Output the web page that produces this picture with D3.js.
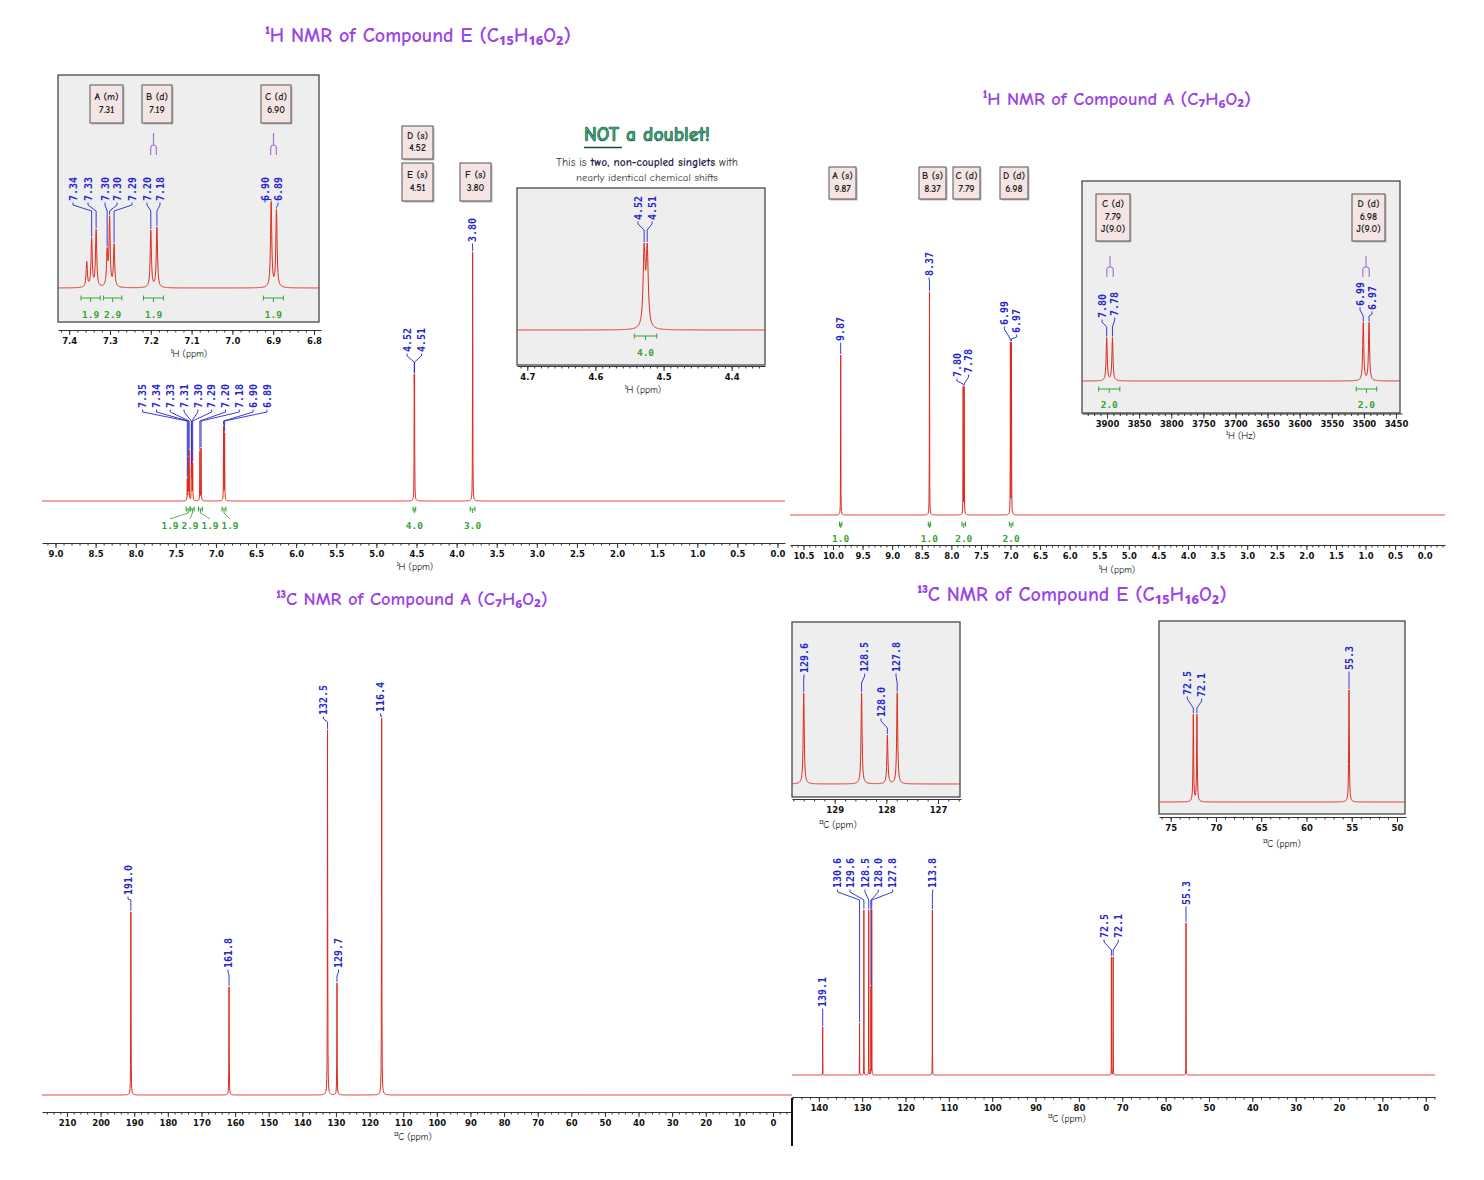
<!DOCTYPE html>
<html><head><meta charset="utf-8">
<script src="https://cdn.jsdelivr.net/npm/d3@7"></script>
<style>body{margin:0;background:#fff;} svg{display:block;}</style>
</head><body>
<svg id="c" width="1484" height="1180"></svg>
<script>
// ================= DATA =================
// Compound E, 1H NMR (ppm, relative intensity)
const hE_shift     = [7.357, 7.345, 7.334, 7.307, 7.301, 7.290, 7.200, 7.185, 6.905, 6.892, 4.5285, 4.524, 3.800];
const hE_intensity = [25, 48, 57, 34, 68, 42, 57, 60, 85, 77, 128, 128, 286];
const hE_mainLabels      = ["7.35","7.34","7.33","7.31","7.30","7.29","7.20","7.18","6.90","6.89"];
const hE_mainLabelShift  = [7.357, 7.345, 7.334, 7.307, 7.301, 7.290, 7.200, 7.185, 6.905, 6.892];
const hE_insetLabels     = ["7.34","7.33","7.30","7.30","7.29","7.20","7.18","6.90","6.89"];
const hE_insetLabelShift = [7.345, 7.334, 7.307, 7.301, 7.290, 7.200, 7.185, 6.905, 6.892];
const hE_pairLabels      = ["4.52","4.51"];
const hE_pairShift       = [4.5285, 4.524];
const hE_intFrom  = [7.371, 7.316, 7.218, 6.924, 4.543, 3.83];
const hE_intTo    = [7.324, 7.271, 7.169, 6.875, 4.510, 3.77];
const hE_intValue = ["1.9", "2.9", "1.9", "1.9", "4.0", "3.0"];
const hE_boxLetter = ["A","B","C","D","E","F"];
const hE_boxMult   = ["m","d","d","s","s","s"];
const hE_boxShift  = ["7.31","7.19","6.90","4.52","4.51","3.80"];
const hE_mainTicks  = [9.0,8.5,8.0,7.5,7.0,6.5,6.0,5.5,5.0,4.5,4.0,3.5,3.0,2.5,2.0,1.5,1.0,0.5,0.0];
const hE_insetTicks = [7.4,7.3,7.2,7.1,7.0,6.9,6.8];
const hE_zoomTicks  = [4.7,4.6,4.5,4.4];

// Compound A, 1H NMR
const hA_shift     = [9.870, 8.370, 7.801, 7.783, 7.002, 6.984];
const hA_intensity = [160, 223, 127, 127, 171, 171];
const hA_labels    = ["9.87","8.37","7.80","7.78","6.99","6.97"];
const hA_intFrom   = [9.89, 8.39, 7.82, 7.02];
const hA_intTo     = [9.85, 8.35, 7.76, 6.96];
const hA_intValue  = ["1.0","1.0","2.0","2.0"];
const hA_insetIntFromHz = [3913, 3512];
const hA_insetIntToHz   = [3880, 3480];
const hA_insetIntValue  = ["2.0","2.0"];
const hA_boxLetter = ["A","B","C","D"];
const hA_boxMult   = ["s","s","d","d"];
const hA_boxShift  = ["9.87","8.37","7.79","6.98"];
const hA_boxJ      = ["9.0","9.0"];
const hA_freqMHz   = 500;
const hA_mainTicks = [10.5,10.0,9.5,9.0,8.5,8.0,7.5,7.0,6.5,6.0,5.5,5.0,4.5,4.0,3.5,3.0,2.5,2.0,1.5,1.0,0.5,0.0];
const hA_insetTicksHz = [3900,3850,3800,3750,3700,3650,3600,3550,3500,3450];

// Compound A, 13C NMR
const cA_shift     = [191.0, 161.8, 132.5, 129.7, 116.4];
const cA_intensity = [183, 108, 365, 112, 377];
const cA_labels    = ["191.0","161.8","132.5","129.7","116.4"];
const cA_ticks     = [210,200,190,180,170,160,150,140,130,120,110,100,90,80,70,60,50,40,30,20,10,0];

// Compound E, 13C NMR
const cE_shift     = [139.1, 130.6, 129.6, 128.48, 127.98, 127.79, 113.8, 72.5, 72.1, 55.3];
const cE_intensity = [48, 52, 165, 165, 88, 165, 165, 118, 118, 152];
const cE_labels    = ["139.1","130.6","129.6","128.5","128.0","127.8","113.8","72.5","72.1","55.3"];
const cE_ticks       = [140,130,120,110,100,90,80,70,60,50,40,30,20,10,0];
const cE_insetTicksA = [129,128,127];
const cE_insetTicksB = [75,70,65,60,55,50];

// ================= RENDERING =================
const svg = d3.select("#c");
svg.append("rect").attr("width",1484).attr("height",1180).attr("fill","#fff");
const defs = svg.append("defs");
const FONT = "'DejaVu Sans', Verdana, sans-serif";
const MONO = "'DejaVu Sans Mono', monospace";
const TFONT = "'Comic Sans MS','Comic Neue','Open Sans',sans-serif";
const RED = "#dd2a1e", BLUE = "#2626cf", GREEN = "#36a336", PURPLE = "#9a45e4", TREE = "#a36ad8";

function lin(v1, p1, v2, p2, x0, x1) {
  const k = (p2 - p1) / (v2 - v1);
  const inv = x => v1 + (x - p1) / k;
  return d3.scaleLinear().domain([inv(x0), inv(x1)]).range([x0, x1]);
}
function clip(id, x, y, w, h) {
  defs.append("clipPath").attr("id", id).append("rect").attr("x",x).attr("y",y).attr("width",w).attr("height",h);
  return `url(#${id})`;
}
function spectrum(g, scale, shifts, ints, gamma, yBase, k, x0, x1, clipUrl) {
  const val = v => { let s = 0; for (let i = 0; i < shifts.length; i++) { const d = (v - shifts[i]) / gamma; s += ints[i] / (1 + d * d); } return s; };
  const xs = d3.range(x0, x1 + 0.001, 0.25);
  shifts.forEach(s => { const p = scale(s); if (p > x0 && p < x1) xs.push(p); });
  xs.sort((a, b) => a - b);
  const pts = xs.map(x => [x, yBase - k * val(scale.invert(x))]);
  const p = g.append("path").attr("d", d3.line()(pts)).attr("fill","none").attr("stroke",RED).attr("stroke-width",1);
  if (clipUrl) p.attr("clip-path", clipUrl);
  return s => yBase - k * val(s);
}
function axis(g, scale, y, majors, minorStep, fmt, label, lx, ly) {
  const dom = scale.domain(), lo = Math.min(...dom), hi = Math.max(...dom);
  const minors = [];
  for (let i = Math.ceil(lo / minorStep - 1e-6); i <= Math.floor(hi / minorStep + 1e-6); i++) minors.push(+(i * minorStep).toFixed(6));
  const gm = g.append("g").attr("transform", `translate(0,${y})`)
    .call(d3.axisBottom(scale).tickValues(minors).tickSize(2.5).tickFormat(""));
  gm.select(".domain").remove();
  const ga = g.append("g").attr("transform", `translate(0,${y})`)
    .call(d3.axisBottom(scale).tickValues(majors).tickSize(5).tickSizeOuter(0).tickPadding(2.5).tickFormat(d3.format(fmt)));
  ga.selectAll("text").attr("font-family", FONT).attr("font-size", 8.5).attr("font-weight", "bold").attr("fill", "#111");
  gm.selectAll("line").attr("stroke", "#333");
  ga.selectAll("line").attr("stroke", "#333");
  ga.select(".domain").attr("stroke", "#333");
  g.append("text").attr("x", lx).attr("y", ly).attr("text-anchor","middle").attr("dominant-baseline","middle")
    .attr("font-family", TFONT).attr("font-size", 9.5).attr("fill","#111").text(label);
}
function peakLabels(g, scale, top, texts, shifts, xs, yBs, yJoin) {
  texts.forEach((t, i) => {
    const xl = xs[i], yB = Array.isArray(yBs) ? yBs[i] : yBs;
    const xp = scale(shifts[i]), yt = top(shifts[i]);
    const yj = Math.min(yJoin, yt - 2);
    const y1 = Math.min(yB + 4, yj);
    g.append("path").attr("d", `M${xl},${yB + 1.5}L${xl},${y1}L${xp},${yj}L${xp},${yt - 1}`)
      .attr("fill","none").attr("stroke",BLUE).attr("stroke-width",0.9);
    g.append("text").attr("transform", `translate(${xl},${yB}) rotate(-90)`).attr("dy","0.36em")
      .attr("font-family", MONO).attr("font-size", 10).attr("font-weight","bold").attr("fill", BLUE).text(t);
  });
}
function integral(g, x1, x2, yb, label, lx, ly) {
  const a = Math.min(x1, x2), b = Math.max(x1, x2), xc = (a + b) / 2;
  g.append("path").attr("d", `M${a},${yb-2.5}V${yb+2.5}M${a},${yb}H${b}M${b},${yb-2.5}V${yb+2.5}M${xc},${yb}V${yb+4}`)
    .attr("fill","none").attr("stroke",GREEN).attr("stroke-width",1);
  if (lx === undefined) lx = xc;
  if (Math.abs(lx - xc) > 2) g.append("path").attr("d", `M${xc},${yb+4}L${lx},${ly-7}`).attr("stroke",GREEN).attr("stroke-width",0.8).attr("fill","none");
  g.append("text").attr("x", lx).attr("y", ly).attr("text-anchor","middle").attr("dominant-baseline","middle")
    .attr("font-family", MONO).attr("font-size", 9.5).attr("font-weight","bold").attr("fill", GREEN).text(label);
}
function labelBox(g, x, y, w, h, lines) {
  g.append("rect").attr("x", x + 1.5).attr("y", y + 1.5).attr("width", w).attr("height", h).attr("fill", "#bbb");
  g.append("rect").attr("x", x).attr("y", y).attr("width", w).attr("height", h).attr("fill", "#f4e4e4").attr("stroke", "#555").attr("stroke-width", 1);
  const n = lines.length, lh = 12.5, y0 = y + h / 2 - (n - 1) * lh / 2;
  lines.forEach((t, i) => g.append("text").attr("x", x + w / 2).attr("y", y0 + i * lh).attr("text-anchor","middle").attr("dominant-baseline","middle")
    .attr("font-family", TFONT).attr("font-size", 10).attr("font-weight", 600).attr("fill", "#222").text(t));
}
function tree(g, cx, y0, y1, y2, hw) {
  g.append("path").attr("d", `M${cx},${y0}V${y1}M${cx-hw},${y2}V${y1+3}Q${cx-hw},${y1} ${cx},${y1}Q${cx+hw},${y1} ${cx+hw},${y1+3}V${y2}`)
    .attr("fill","none").attr("stroke",TREE).attr("stroke-width",1.1);
}
function insetFrame(g, x, y, w, h) {
  g.append("rect").attr("x",x).attr("y",y).attr("width",w).attr("height",h).attr("fill","#eeeeee").attr("stroke","#3a3a3a").attr("stroke-width",1.2);
}
function title(g, x, y, t, size) {
  g.append("text").attr("x",x).attr("y",y).attr("text-anchor","middle").attr("dominant-baseline","middle")
    .attr("font-family", TFONT).attr("font-size", size).attr("font-weight", "bold").attr("fill", PURPLE).text(t);
}
// sequence of text runs fitted into a given width, centred at cx
function runLine(g, cx, y, width, size, runs) {
  const els = runs.map(r => g.append("text").attr("y", y).attr("dominant-baseline","middle")
    .attr("font-family", TFONT).attr("font-size", size).attr("font-weight", r.bold ? "bold" : "normal")
    .attr("fill", r.color).attr("xml:space","preserve").style("white-space","pre").text(r.t));
  const widths = els.map(e => e.node().getComputedTextLength());
  const total = d3.sum(widths), s = width / total;
  let x = cx - width / 2;
  els.forEach((e, i) => { e.attr("font-size", size * s).attr("x", x); x += widths[i] * s; });
}

// ---------- Panel 1 : 1H of Compound E ----------
{
  const g = svg.append("g");
  title(g, 418, 37, "¹H NMR of Compound E (C₁₅H₁₆O₂)", 20);
  const sx = lin(9.0, 55.5, 0.0, 777.5, 42, 785);
  const top = spectrum(g, sx, hE_shift, hE_intensity, 0.0018, 501, 0.87, 42, 785);
  axis(g, sx, 543, hE_mainTicks, 0.1, ".1f", "¹H (ppm)", 415, 568);
  peakLabels(g, sx, top, hE_mainLabels, hE_mainLabelShift, d3.range(10).map(i => 142.7 + i * 13.8), 408, 421);
  peakLabels(g, sx, top, hE_pairLabels, hE_pairShift, [407, 421.5], 352, 362);
  peakLabels(g, sx, top, ["3.80"], [3.80], [472.5], 242, 246);
  const ilx = [170, 190, 210, 230];
  hE_intValue.forEach((v, i) => integral(g, sx(hE_intFrom[i]), sx(hE_intTo[i]), 509, v, i < 4 ? ilx[i] : undefined, 526));
  labelBox(g, 402, 126, 31, 33, [`${hE_boxLetter[3]} (${hE_boxMult[3]})`, hE_boxShift[3]]);
  labelBox(g, 402, 163, 31, 38, [`${hE_boxLetter[4]} (${hE_boxMult[4]})`, hE_boxShift[4]]);
  labelBox(g, 460, 163, 31, 38, [`${hE_boxLetter[5]} (${hE_boxMult[5]})`, hE_boxShift[5]]);

  // inset : aromatic region
  insetFrame(g, 58, 75, 261, 247);
  const ix = lin(7.4, 69.2, 6.8, 314, 58, 321);
  const cp = clip("clipE1", 58, 75, 261, 247);
  const itop = spectrum(g, ix, hE_shift, hE_intensity, 0.0018, 288, 1.0, 58, 319, cp);
  axis(g, ix, 330, hE_insetTicks, 0.02, ".1f", "¹H (ppm)", 189, 355);
  peakLabels(g, ix, itop, hE_insetLabels, hE_insetLabelShift, [73, 88, 105, 117, 132, 147, 160, 265, 278], 201, 211);
  const ilx2 = [90.7, 112.7, 153.7, 273.3];
  for (let i = 0; i < 4; i++) integral(g, ix(hE_intFrom[i]), ix(hE_intTo[i]), 298, hE_intValue[i], ilx2[i], 315);
  labelBox(g, 90, 85, 33, 38, [`${hE_boxLetter[0]} (${hE_boxMult[0]})`, hE_boxShift[0]]);
  labelBox(g, 142, 85, 30, 38, [`${hE_boxLetter[1]} (${hE_boxMult[1]})`, hE_boxShift[1]]);
  labelBox(g, 261, 85, 30, 38, [`${hE_boxLetter[2]} (${hE_boxMult[2]})`, hE_boxShift[2]]);
  tree(g, 153.5, 133, 145, 155, 2.8);
  tree(g, 273.5, 133, 145, 155, 2.8);

  // inset : "NOT a doublet!"
  g.append("text").attr("x", 647).attr("y", 136).attr("text-anchor","middle").attr("dominant-baseline","middle")
    .attr("font-family", TFONT).attr("font-size", 21).attr("font-weight","bold").attr("fill","#38b77a").attr("stroke","#15503a").attr("stroke-width",0.7)
    .attr("textLength", 126).attr("lengthAdjust","spacingAndGlyphs").text("NOT a doublet!");
  g.append("line").attr("x1",584).attr("x2",622).attr("y1",147.5).attr("y2",147.5).attr("stroke","#15503a").attr("stroke-width",1.6);
  runLine(g, 647, 163, 182, 12, [
    { t: "This is ", color: "#333" },
    { t: "two, non-coupled singlets", color: "#2a1d4e", bold: true },
    { t: " with", color: "#333" }]);
  runLine(g, 647, 178, 142, 12, [{ t: "nearly identical chemical shifts", color: "#333" }]);
  insetFrame(g, 517, 188, 248, 177);
  const zx = lin(4.7, 527.3, 4.4, 731.7, 517, 765);
  const zcp = clip("clipE2", 517, 188, 248, 177);
  const ztop = spectrum(g, zx, hE_shift, hE_intensity, 0.0018, 330, 0.597, 517, 765, zcp);
  axis(g, zx, 366, hE_zoomTicks, 0.01, ".1f", "¹H (ppm)", 643, 391);
  peakLabels(g, zx, ztop, hE_pairLabels, hE_pairShift, [638, 652], 220, 230);
  integral(g, zx(hE_intFrom[4]), zx(hE_intTo[4]), 336, hE_intValue[4], undefined, 353);
}

// ---------- Panel 2 : 1H of Compound A ----------
{
  const g = svg.append("g");
  title(g, 1117, 100, "¹H NMR of Compound A (C₇H₆O₂)", 18.5);
  const sx = lin(9.87, 840.7, 6.98, 1011.7, 790, 1445);
  const top = spectrum(g, sx, hA_shift, hA_intensity, 0.002, 515, 1.0, 790, 1445);
  axis(g, sx, 545, hA_mainTicks, 0.1, ".1f", "¹H (ppm)", 1117, 571);
  peakLabels(g, sx, top, [hA_labels[0]], [hA_shift[0]], [840.7], 341, 346);
  peakLabels(g, sx, top, [hA_labels[1]], [hA_shift[1]], [929], 276, 280);
  peakLabels(g, sx, top, hA_labels.slice(2, 4), hA_shift.slice(2, 4), [957, 968.5], [377, 373], 384);
  peakLabels(g, sx, top, hA_labels.slice(4, 6), hA_shift.slice(4, 6), [1004.3, 1016.7], [325, 333], 339);
  hA_intValue.forEach((v, i) => integral(g, sx(hA_intFrom[i]), sx(hA_intTo[i]), 524, v, undefined, 539));
  [829, 919, 953, 1000].forEach((x, i) => labelBox(g, x, 167, i === 3 ? 28 : 27, 32, [`${hA_boxLetter[i]} (${hA_boxMult[i]})`, hA_boxShift[i]]));

  // inset in Hz
  insetFrame(g, 1082, 181, 318, 232);
  const hx = lin(3900, 1107, 3450, 1396, 1082, 1402);
  const cp = clip("clipA1", 1082, 181, 318, 232);
  const hzShift = hA_shift.map(s => s * hA_freqMHz);
  const htopHz = spectrum(g, hx, hzShift, hA_intensity, 0.002 * hA_freqMHz, 381, 0.338, 1082, 1400, cp);
  axis(g, hx, 413.5, hA_insetTicksHz, 10, "d", "¹H (Hz)", 1241, 437);
  peakLabels(g, hx, htopHz, hA_labels.slice(2, 4), hzShift.slice(2, 4), [1102, 1114.7], [318, 316], 327);
  peakLabels(g, hx, htopHz, hA_labels.slice(4, 6), hzShift.slice(4, 6), [1360, 1372], [306, 310], 316);
  hA_insetIntValue.forEach((v, i) => integral(g, hx(hA_insetIntFromHz[i]), hx(hA_insetIntToHz[i]), 389, v, undefined, 405));
  labelBox(g, 1096, 194, 34, 47, [`${hA_boxLetter[2]} (${hA_boxMult[2]})`, hA_boxShift[2], `J(${hA_boxJ[0]})`]);
  labelBox(g, 1352, 194, 33, 47, [`${hA_boxLetter[3]} (${hA_boxMult[3]})`, hA_boxShift[3], `J(${hA_boxJ[1]})`]);
  tree(g, 1110, 256, 267, 277, 3.2);
  tree(g, 1366, 256, 267, 277, 3.2);
}

// ---------- Panel 3 : 13C of Compound A ----------
{
  const g = svg.append("g");
  title(g, 412, 600, "¹³C NMR of Compound A (C₇H₆O₂)", 18.5);
  const sx = lin(210, 67, 0, 773, 42, 792);
  const top = spectrum(g, sx, cA_shift, cA_intensity, 0.05, 1095, 1.0, 42, 792);
  axis(g, sx, 1112, cA_ticks, 2, "d", "¹³C (ppm)", 413, 1138);
  peakLabels(g, sx, top, [cA_labels[0]], [cA_shift[0]], [128], 895, 900);
  peakLabels(g, sx, top, [cA_labels[1]], [cA_shift[1]], [228], 968, 975);
  peakLabels(g, sx, top, [cA_labels[2]], [cA_shift[2]], [323.5], 715, 722);
  peakLabels(g, sx, top, [cA_labels[3]], [cA_shift[3]], [338.5], 968, 976);
  peakLabels(g, sx, top, [cA_labels[4]], [cA_shift[4]], [380.5], 712, 716);
  g.append("line").attr("x1",792).attr("x2",792).attr("y1",1098).attr("y2",1146).attr("stroke","#111").attr("stroke-width",2);
}

// ---------- Panel 4 : 13C of Compound E ----------
{
  const g = svg.append("g");
  title(g, 1072, 596, "¹³C NMR of Compound E (C₁₅H₁₆O₂)", 20);
  const sx = lin(139.1, 822.7, 55.3, 1186, 792, 1435);
  const top = spectrum(g, sx, cE_shift, cE_intensity, 0.012, 1075, 1.0, 792, 1435);
  axis(g, sx, 1097, cE_ticks, 2, "d", "¹³C (ppm)", 1067, 1120);
  peakLabels(g, sx, top, [cE_labels[0]], [cE_shift[0]], [822.7], 1007, 1012);
  peakLabels(g, sx, top, cE_labels.slice(1, 6), cE_shift.slice(1, 6), [837.7, 850, 865, 878.3, 892.7], 888, 900);
  peakLabels(g, sx, top, [cE_labels[6]], [cE_shift[6]], [932.7], 888, 894);
  peakLabels(g, sx, top, cE_labels.slice(7, 9), cE_shift.slice(7, 9), [1104, 1118.3], 938, 950);
  peakLabels(g, sx, top, [cE_labels[9]], [cE_shift[9]], [1186], 905, 910);

  // inset A : 127-130 ppm
  insetFrame(g, 792, 622, 168, 175);
  const ax = lin(129, 834.7, 127, 938, 792, 961);
  const cpa = clip("clipC1", 792, 622, 168, 175);
  const atop = spectrum(g, ax, cE_shift, cE_intensity, 0.012, 784, 0.552, 792, 960, cpa);
  axis(g, ax, 799, cE_insetTicksA, 0.2, "d", "¹³C (ppm)", 838, 826);
  peakLabels(g, ax, atop, [cE_labels[2]], [cE_shift[2]], [804], 673, 678);
  peakLabels(g, ax, atop, [cE_labels[3]], [cE_shift[3]], [864.7], 672, 683);
  peakLabels(g, ax, atop, [cE_labels[4]], [cE_shift[4]], [881], 717, 728);
  peakLabels(g, ax, atop, [cE_labels[5]], [cE_shift[5]], [896], 672, 683);

  // inset B : 50-76 ppm
  insetFrame(g, 1159, 621, 246, 193);
  const bx = lin(72.5, 1193.3, 55.3, 1349, 1159, 1406);
  const cpb = clip("clipC2", 1159, 621, 246, 193);
  const btop = spectrum(g, bx, cE_shift, cE_intensity, 0.04, 802, 0.737, 1159, 1405, cpb);
  axis(g, bx, 817, cE_insetTicksB, 1, "d", "¹³C (ppm)", 1282, 845);
  peakLabels(g, bx, btop, cE_labels.slice(7, 9), cE_shift.slice(7, 9), [1187.3, 1201.7], [695, 697], 708);
  peakLabels(g, bx, btop, [cE_labels[9]], [cE_shift[9]], [1349], 670, 676);
}
</script>
</body></html>
